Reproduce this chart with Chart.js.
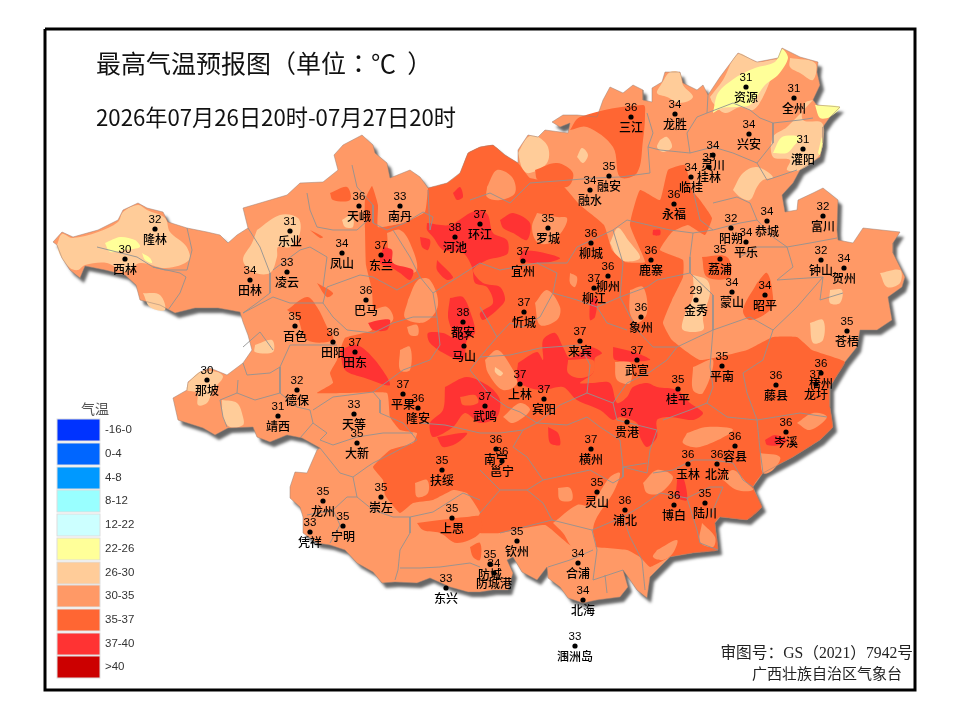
<!DOCTYPE html>
<html>
<head>
<meta charset="utf-8">
<title>最高气温预报图</title>
<script src="https://cdn.jsdelivr.net/npm/chart.js@4"></script>
<style>
  html, body { margin: 0; padding: 0; background: #fff; }
  canvas { display: block; }
</style>
</head>
<body>
<canvas id="chartCanvas" width="960" height="719"></canvas>
<script>
/* =========================
   Stations (map grid units = picture grid)
========================= */
const stationNames = ["隆林","西林","乐业","天峨","南丹","凤山","东兰","河池","环江","田林","凌云","巴马","百色","田阳","田东","都安","马山","三江","龙胜","资源","全州","兴安","灌阳","灵川","桂林","临桂","融安","融水","永福","阳朔","恭城","富川","平乐","罗城","柳城","鹿寨","荔浦","钟山","贺州","宜州","柳州","柳江","蒙山","昭平","金秀","忻城","象州","苍梧","来宾","武宣","平南","桂平","上林","宾阳","武鸣","藤县","梧州","龙圩","岑溪","贵港","南宁","邕宁","横州","容县","玉林","北流","灵山","浦北","博白","陆川","钦州","合浦","防城","防城港","北海","涠洲岛","那坡","德保","靖西","天等","大新","平果","隆安","扶绥","崇左","龙州","宁明","凭祥","上思","东兴"];
const stationTemps = [32,30,31,36,33,34,37,38,37,34,33,36,35,36,37,38,37,36,34,31,31,34,31,34,35,34,35,34,36,32,34,32,34,35,36,36,35,32,34,37,36,37,34,34,29,37,36,35,37,37,35,35,37,37,37,36,36,37,36,37,36,36,37,36,36,36,35,36,36,35,35,34,35,34,34,33,30,32,31,33,35,37,36,35,35,35,35,33,35,33];
const stationX = [155,125,290,359,400,342,381,455,480,250,287,366,295,333,355,463,464,631,675,746,794,749,803,713,709,691,609,590,674,731,767,823,746,548,591,651,720,821,844,523,608,594,732,765,696,524,641,847,580,637,722,678,520,544,485,776,821,816,786,627,496,502,591,735,688,717,597,625,674,705,517,578,490,494,583,575,207,297,278,354,357,403,418,442,381,323,343,310,452,446];
const stationY = [229,259,231,206,206,253,255,237,224,280,272,300,326,342,352,322,346,117,114,87,98,134,149,155,167,177,176,190,204,228,221,216,242,228,243,260,259,260,268,261,276,288,292,295,300,312,317,331,341,360,366,389,384,399,406,385,373,384,432,422,449,461,449,446,464,464,492,510,505,503,541,563,564,573,600,646,380,390,416,414,443,394,408,470,497,501,526,532,518,588];

/* =========================
   Legend
========================= */
const legendLabels = ["-16-0","0-4","4-8","8-12","12-22","22-26","26-30","30-35","35-37","37-40",">40"];
const legendColors = ["#0033FF","#0066FF","#0099FF","#99FFFF","#CCFFFF","#FFFF99","#FFCC99","#FF9966","#FF6633","#FF3333","#CC0000"];
const legendTop = [419,443,467,490,514,538,562,585,609,633,656];

const bandYellow = "#FFFF99", bandLight = "#FFCC99", bandBase = "#FF9966", bandHot = "#FF6633", bandRed = "#FF3333";

/* =========================
   Map shapes
========================= */
const frameBox = [[45,29],[915,29],[915,690],[45,690],[45,29]];

const provinceOutline = [[53,242],[62,232],[73,237],[98,230],[118,220],[123,210],[138,203],[147,208],[163,212],[168,222],[187,228],[207,232],[220,235],[228,243],[237,235],[248,228],[243,208],[260,203],[287,195],[300,183],[323,182],[338,170],[334,155],[343,145],[362,135],[373,145],[375,153],[387,163],[390,178],[410,170],[420,177],[428,188],[447,183],[460,173],[468,153],[480,147],[493,145],[505,155],[518,163],[518,150],[528,135],[538,137],[545,130],[568,133],[570,123],[560,127],[552,122],[563,115],[577,115],[597,117],[603,100],[610,87],[623,93],[633,85],[643,90],[643,100],[652,102],[652,88],[662,82],[665,72],[680,72],[683,83],[697,90],[703,85],[708,95],[720,77],[738,53],[757,62],[778,58],[782,48],[800,57],[818,62],[817,72],[820,85],[813,100],[817,105],[840,107],[830,117],[823,127],[823,143],[820,157],[800,170],[793,183],[782,195],[785,212],[797,210],[798,200],[813,193],[823,188],[838,200],[837,230],[838,240],[853,243],[863,228],[900,232],[893,243],[893,253],[905,277],[902,287],[888,297],[892,320],[877,330],[860,330],[857,347],[845,362],[830,387],[830,407],[833,427],[820,440],[793,457],[763,473],[753,487],[762,507],[747,520],[720,517],[715,523],[718,550],[693,553],[670,557],[650,577],[647,598],[637,590],[628,577],[623,570],[628,587],[620,597],[597,600],[583,603],[568,598],[560,587],[548,578],[547,567],[537,580],[522,572],[513,557],[507,560],[513,573],[508,590],[493,590],[480,592],[468,592],[450,587],[430,578],[417,583],[395,582],[382,583],[373,572],[357,563],[345,550],[330,545],[317,543],[303,533],[303,517],[300,507],[290,498],[290,487],[295,472],[307,473],[317,450],[320,448],[302,438],[287,435],[270,442],[257,437],[253,427],[228,428],[215,435],[203,428],[178,420],[173,398],[187,390],[188,382],[200,372],[210,368],[227,375],[243,363],[252,350],[248,335],[243,322],[240,312],[218,308],[195,308],[175,313],[160,305],[140,300],[136,285],[125,275],[105,270],[85,266],[80,278],[70,270],[62,258],[57,245]];

const hotMain = [[428,188],[447,183],[460,173],[468,153],[480,147],[493,145],[505,155],[518,163],[530,178],[560,183],[580,205],[604,225],[612,250],[625,262],[645,262],[630,225],[640,190],[660,200],[668,170],[685,165],[692,190],[700,200],[712,218],[705,235],[688,225],[672,232],[660,250],[683,260],[683,277],[672,300],[663,323],[672,340],[700,360],[747,350],[773,337],[797,337],[812,350],[845,362],[830,387],[830,407],[833,427],[820,440],[793,457],[763,473],[753,487],[762,507],[747,520],[720,517],[715,523],[718,550],[693,553],[670,557],[650,567],[640,557],[627,550],[593,547],[570,545],[545,525],[500,533],[480,533],[472,525],[480,513],[467,493],[453,490],[433,500],[413,503],[400,513],[385,495],[383,480],[373,467],[390,450],[413,443],[417,433],[400,430],[390,417],[387,393],[345,393],[317,393],[333,383],[330,373],[337,360],[345,338],[372,330],[372,290],[366,265],[365,228],[365,200],[372,186],[378,205],[378,227],[403,223],[425,212]];

const hotPatches = [
  [[417,523],[440,520],[467,517],[480,517],[480,533],[457,543],[440,533],[423,530]],
  [[470,547],[480,543],[480,560],[473,557]],
  [[287,310],[307,297],[317,307],[327,327],[333,340],[307,340],[297,317]],
  [[317,283],[333,293],[327,297]],
  [[330,193],[347,187],[350,200],[333,200]],
  [[310,230],[323,237],[320,238]],
  [[570,130],[580,117],[643,105],[645,115],[643,140],[637,173],[620,177],[613,147],[587,127]],
  [[535,170],[557,163],[573,173],[567,187],[538,180]],
  [[702,257],[727,257],[730,277],[707,277]],
  [[757,283],[767,273],[773,297],[770,310],[750,320],[743,310]]
];

const baseHoles = [
  [[487,187],[497,170],[512,177],[515,193],[500,200],[487,197]],
  [[535,303],[547,290],[560,307],[557,320],[540,325]],
  [[373,310],[387,307],[393,320],[373,330]],
  [[387,233],[400,230],[410,243],[417,270],[403,273],[390,257]],
  [[408,300],[418,280],[430,280],[438,305],[425,322],[405,318]],
  [[407,327],[417,325],[418,335],[410,335]],
  [[400,350],[410,347],[410,370],[400,370]],
  [[537,213],[557,217],[567,218],[563,230],[550,243],[537,242],[532,227]],
  [[570,273],[577,277],[575,287],[570,283]],
  [[558,488],[570,488],[572,500],[560,500]],
  [[553,523],[577,505],[590,505],[610,477],[620,473],[613,493],[597,517],[593,530],[595,548],[573,547],[563,533]],
  [[643,483],[657,470],[673,477],[660,493],[647,493]],
  [[657,550],[677,540],[673,553],[663,560],[653,557]],
  [[702,523],[715,537],[713,547],[700,542]],
  [[723,480],[733,470],[747,483],[753,490],[737,490]],
  [[687,433],[707,427],[733,430],[700,447],[683,443]],
  [[760,453],[780,457],[773,470],[763,473]],
  [[797,423],[813,413],[827,417],[810,430]],
  [[693,367],[713,360],[703,393],[693,390]],
  [[485,360],[497,350],[507,360],[517,383],[503,390],[488,373]],
  [[503,417],[520,403],[530,410],[513,423]],
  [[615,362],[630,362],[630,383],[617,380]],
  [[630,290],[643,287],[647,313],[637,323],[630,313]],
  [[415,483],[427,480],[428,493],[417,497]]
];

const lightCore = [[495,367],[503,373],[500,376],[495,372]];

const lightPatches = [
  [[57,245],[62,234],[72,238],[98,232],[118,222],[123,212],[138,205],[147,210],[165,218],[170,232],[186,246],[189,260],[166,268],[140,263],[125,272],[107,263],[85,265],[78,270],[70,268],[60,255]],
  [[257,230],[280,215],[298,218],[300,233],[290,247],[278,247],[277,257],[270,273],[253,272],[243,260],[252,243]],
  [[342,220],[352,215],[353,227],[345,227]],
  [[143,293],[160,295],[165,310],[150,307]],
  [[255,345],[272,340],[273,352],[255,352]],
  [[188,383],[200,372],[217,372],[223,377],[213,390],[207,403],[198,405],[197,393],[187,390]],
  [[222,400],[237,403],[243,417],[243,425],[230,427],[223,417]],
  [[662,83],[670,72],[680,73],[683,85],[693,97],[680,103],[667,97],[657,93]],
  [[710,97],[723,80],[738,54],[757,62],[778,60],[773,73],[763,97],[753,110],[740,107],[725,113],[713,103]],
  [[790,58],[815,63],[813,80],[800,73],[790,67]],
  [[813,100],[805,103],[803,120],[822,123],[823,143],[818,157],[800,170],[787,170],[790,160],[773,157],[773,137],[787,127]],
  [[733,190],[743,173],[757,167],[773,177],[763,180],[757,187],[750,200],[740,197]],
  [[518,153],[528,137],[538,137],[548,147],[547,163],[530,173],[523,170]],
  [[577,157],[582,148],[588,155],[583,163]],
  [[660,140],[667,137],[672,147],[663,152],[657,147]],
  [[693,275],[707,280],[710,293],[703,317],[703,330],[683,330],[684,317],[693,297]],
  [[810,323],[823,320],[823,340],[813,343]],
  [[880,273],[900,270],[900,283],[887,287]],
  [[830,290],[842,290],[840,303],[830,303]],
  [[610,243],[618,228],[628,240],[640,258],[620,260]]
];

const yellowPatches = [
  [[105,243],[120,237],[135,240],[140,247],[125,250],[110,252]],
  [[142,253],[150,258],[152,263],[145,260]],
  [[713,113],[718,93],[735,78],[755,68],[775,62],[782,49],[788,58],[778,75],[765,85],[750,105],[735,107],[722,108]],
  [[815,105],[840,107],[830,117],[820,118]],
  [[773,153],[782,137],[800,137],[793,147],[787,153]],
  [[818,153],[822,137],[823,143],[820,155]]
];

const redPatches = [
  [[427,223],[450,225],[470,213],[480,210],[488,215],[493,233],[507,240],[508,253],[500,257],[487,260],[473,270],[483,283],[500,287],[505,300],[497,310],[483,320],[480,313],[493,303],[487,287],[475,283],[472,267],[463,253],[443,250],[433,237],[427,230]],
  [[420,237],[430,240],[428,250],[422,247]],
  [[437,260],[453,277],[447,280],[437,270]],
  [[500,220],[513,213],[530,223],[527,240],[513,233],[503,228]],
  [[523,250],[540,252],[560,258],[550,262],[533,263],[520,260]],
  [[383,247],[392,250],[393,263],[413,270],[410,280],[400,273],[390,267],[380,263]],
  [[450,298],[463,297],[472,317],[475,333],[467,340],[463,360],[447,355],[430,343],[428,333],[443,333],[453,337],[448,317]],
  [[340,350],[357,345],[375,360],[390,385],[365,378],[345,370]],
  [[368,323],[380,320],[390,320],[387,330],[373,330]],
  [[518,363],[537,352],[543,360],[543,340],[555,333],[563,347],[570,358],[590,347],[602,353],[595,358],[593,373],[580,383],[593,383],[610,383],[617,403],[627,397],[633,387],[647,383],[657,387],[677,390],[690,403],[703,413],[693,420],[670,417],[657,420],[657,437],[647,447],[640,437],[637,423],[620,417],[613,420],[600,410],[577,400],[563,387],[543,390],[527,387],[517,380]],
  [[613,347],[637,353],[650,360],[615,360]],
  [[445,387],[467,377],[490,387],[500,400],[497,417],[480,423],[465,413],[453,427],[433,437],[430,423],[443,410]],
  [[437,437],[467,433],[457,443],[443,447]],
  [[548,427],[558,433],[560,445],[550,443]],
  [[765,440],[775,435],[787,440],[780,445],[767,445]],
  [[677,480],[683,477],[687,500],[677,497]],
  [[590,300],[597,297],[595,317],[590,320]],
  [[653,230],[660,230],[660,235],[653,235]],
  [[453,193],[460,187],[463,197],[457,200]]
];

const redHoles = [
  [[568,360],[593,360],[593,373],[580,378],[568,373]],
  [[460,397],[475,395],[478,403],[463,405]]
];

const countyLines = [
  [[187,228],[192,250],[187,270],[165,270],[153,267],[137,257],[117,252],[97,247]],
  [[153,267],[180,273],[186,277],[180,293],[168,310]],
  [[248,228],[260,247],[270,273],[270,293],[257,303],[243,313]],
  [[273,270],[300,250],[310,247],[327,257],[323,287]],
  [[307,193],[310,210],[317,227],[333,230],[357,230],[368,220]],
  [[352,165],[357,187],[373,205],[373,223],[387,230],[405,223],[423,212],[433,217],[430,230],[428,190]],
  [[327,287],[360,275],[373,277],[397,290],[420,277],[410,257],[393,230]],
  [[327,287],[323,303],[333,317],[347,330],[373,333],[393,323],[413,317],[437,317],[433,293],[420,277]],
  [[243,313],[273,297],[290,303],[307,303],[323,303]],
  [[243,347],[260,332],[273,350]],
  [[243,363],[247,375],[270,373],[280,367],[290,345],[337,345]],
  [[238,380],[237,393],[220,400],[223,417],[227,427]],
  [[280,393],[297,407],[310,410],[313,423],[300,438]],
  [[280,367],[280,393],[255,400],[237,393]],
  [[313,410],[333,397],[373,392],[380,400],[380,413],[403,423],[417,440]],
  [[313,423],[327,433],[320,440],[333,445],[357,437],[383,433],[413,433]],
  [[320,448],[340,473],[353,477],[367,467],[373,463],[393,453],[417,440]],
  [[353,477],[357,497],[347,497],[333,510],[307,515]],
  [[333,510],[340,525],[330,543]],
  [[357,497],[373,510],[393,517],[410,517],[410,533],[400,550],[398,570],[395,580]],
  [[400,568],[420,568],[440,567],[470,563],[480,567]],
  [[410,517],[433,512],[463,493],[480,500]],
  [[480,513],[500,490],[527,490],[543,503],[552,520],[592,530],[597,550],[593,580]],
  [[593,550],[570,560],[548,567]],
  [[500,533],[552,520]],
  [[605,575],[607,593]],
  [[593,580],[623,570]],
  [[642,560],[630,537],[623,517],[592,530]],
  [[642,560],[645,590]],
  [[623,517],[640,507],[660,493],[687,498],[697,530],[700,543],[718,550]],
  [[687,498],[710,487],[723,487],[710,517]],
  [[653,473],[673,470],[693,460],[713,460],[733,463],[743,480],[753,487]],
  [[763,473],[760,450],[757,420],[800,413],[827,417]],
  [[757,420],[747,393],[743,373],[763,360],[773,330]],
  [[663,420],[690,410],[707,403],[727,417],[757,420]],
  [[707,403],[713,387],[710,367],[713,330]],
  [[587,393],[613,403],[617,420],[657,430],[650,450],[647,473],[623,467],[647,463]],
  [[537,423],[567,425],[587,417],[600,427],[620,440],[623,467],[623,477],[613,483],[590,470],[543,480],[527,490]],
  [[480,470],[500,490]],
  [[543,480],[527,457],[513,447],[523,430],[537,423]],
  [[480,433],[500,433],[523,430]],
  [[507,407],[520,412],[537,423],[560,405],[587,393]],
  [[647,113],[653,133],[648,147],[650,173],[620,177],[595,178],[570,180],[530,183],[510,203],[490,193],[470,200]],
  [[708,95],[707,113],[697,117],[687,133],[690,153],[660,150],[648,147]],
  [[707,113],[733,103],[750,110],[760,118],[773,123],[773,143],[757,163],[733,153],[713,147],[690,153]],
  [[773,123],[800,120],[813,118]],
  [[757,163],[767,180],[797,170]],
  [[713,203],[737,197],[750,203],[757,220],[773,237],[787,247],[810,243],[837,238]],
  [[693,190],[700,220],[713,230],[693,233],[690,257],[690,273],[657,280]],
  [[713,230],[740,223],[757,220]],
  [[740,257],[757,247],[787,247]],
  [[787,247],[793,267],[777,280],[823,277],[820,300],[843,293]],
  [[690,273],[713,295],[713,330],[750,317],[773,330],[797,307],[823,277]],
  [[480,263],[500,270],[537,263],[567,263],[577,247],[613,230],[627,220],[670,230],[693,233]],
  [[537,263],[557,273],[553,293],[577,300],[597,307],[620,297],[623,263],[613,230]],
  [[620,297],[647,287],[657,280]],
  [[620,297],[637,330],[653,347],[677,347],[713,330]],
  [[480,307],[497,337],[510,323],[523,327],[540,317],[553,293]],
  [[497,337],[480,357],[470,370],[490,395],[507,407]],
  [[597,307],[607,323],[627,330]],
  [[433,293],[480,263]],
  [[437,317],[440,345],[430,360],[403,370],[373,392]],
  [[677,347],[667,360],[650,372],[627,383],[613,403]],
  [[587,393],[590,365],[580,345],[540,348],[510,355],[480,357]],
  [[420,423],[445,425],[480,433]]
];

/* =========================
   Helpers
========================= */
function polyDataset(points, color, tension) {
  const closed = points.concat([points[0]]).map(p => ({ x: p[0], y: p[1] }));
  return {
    data: closed,
    showLine: true,
    fill: "shape",
    backgroundColor: color,
    borderColor: color,
    borderWidth: 0,
    pointRadius: 0,
    tension: tension
  };
}

function lineDataset(points, color, width) {
  return {
    data: points.map(p => ({ x: p[0], y: p[1] })),
    showLine: true,
    fill: false,
    borderColor: color,
    borderWidth: width,
    pointRadius: 0,
    tension: 0
  };
}

// painter order, bottom first
const painted = [];
painted.push(polyDataset(provinceOutline, bandBase, 0));
lightPatches.forEach(p => painted.push(polyDataset(p, bandLight, 0.35)));
yellowPatches.forEach(p => painted.push(polyDataset(p, bandYellow, 0.3)));
painted.push(polyDataset(hotMain, bandHot, 0.12));
hotPatches.forEach(p => painted.push(polyDataset(p, bandHot, 0.35)));
baseHoles.forEach(p => painted.push(polyDataset(p, bandBase, 0.35)));
painted.push(polyDataset(lightCore, bandLight, 0.35));
redPatches.forEach(p => painted.push(polyDataset(p, bandRed, 0.3)));
redHoles.forEach(p => painted.push(polyDataset(p, bandHot, 0.35)));
countyLines.forEach(p => painted.push(lineDataset(p, "#929292", 0.9)));
painted.push(lineDataset(provinceOutline.concat([provinceOutline[0]]), "#9a8074", 0.5));
painted.push(lineDataset(frameBox, "#000000", 3));
painted.push({
  data: stationX.map((x, i) => ({ x: x, y: stationY[i] })),
  showLine: false,
  pointRadius: 2.6,
  pointBackgroundColor: "#000000",
  pointBorderWidth: 0
});

/* =========================
   Shadow + text plugin
========================= */
const mapPlugin = {
  id: "mapText",
  beforeDatasetsDraw(chart) {
    // drop shadow only for the province fill, the first thing painted
    const ctx = chart.ctx;
    ctx.save();
    ctx.shadowColor = "rgba(0,0,0,0.6)";
    ctx.shadowBlur = 3;
    ctx.shadowOffsetX = 4;
    ctx.shadowOffsetY = 5;
  },
  afterDatasetDraw(chart, args) {
    if (args.index === painted.length - 1) chart.ctx.restore();
  },
  afterDatasetsDraw(chart) {
    const ctx = chart.ctx;
    const sx = chart.scales.x, sy = chart.scales.y;
    ctx.save();
    ctx.textAlign = "center";
    ctx.textBaseline = "middle";
    ctx.fillStyle = "#000";
    stationNames.forEach((name, i) => {
      const px = sx.getPixelForValue(stationX[i]);
      const py = sy.getPixelForValue(stationY[i]);
      ctx.font = '11.5px "Liberation Sans"';
      ctx.fillText(String(stationTemps[i]), px, py - 9.5);
      ctx.font = '500 12px "Noto Sans CJK SC"';
      ctx.fillText(name, px, py + 10);
    });

    // headings
    ctx.textAlign = "left";
    ctx.fillStyle = "#111";
    ctx.font = '25px "Noto Sans CJK TC"';
    ctx.fillText("最高气温预报图（单位：℃  ）", 96, 63);
    ctx.font = '22.2px "Noto Sans CJK SC"';
    ctx.fillText("2026年07月26日20时-07月27日20时", 96, 118);

    // legend
    ctx.textAlign = "center";
    ctx.fillStyle = "#555";
    ctx.font = '14px "Noto Sans CJK SC"';
    ctx.fillText("气温", 95, 409);
    ctx.textAlign = "left";
    ctx.font = '11.5px "Liberation Sans"';
    legendLabels.forEach((label, i) => {
      ctx.fillStyle = legendColors[i];
      ctx.fillRect(57, legendTop[i], 43, 22);
      ctx.strokeStyle = "#dddddd";
      ctx.lineWidth = 1;
      ctx.strokeRect(57, legendTop[i], 43, 22);
      ctx.fillStyle = "#333";
      ctx.fillText(label, 105, legendTop[i] + 11);
    });

    // footer
    ctx.fillStyle = "#222";
    ctx.textAlign = "right";
    ctx.font = '15.7px "Liberation Serif", "Noto Sans CJK SC"';
    ctx.fillText("审图号：GS（2021）7942号", 913, 654);
    ctx.font = '15px "Noto Sans CJK SC"';
    ctx.fillText("广西壮族自治区气象台", 902, 673);
    ctx.restore();
  }
};

/* =========================
   Render Chart
========================= */
const ctx = document.getElementById("chartCanvas").getContext("2d");
new Chart(ctx, {
  type: "scatter",
  data: { datasets: painted.slice().reverse() },
  options: {
    responsive: false,
    animation: false,
    devicePixelRatio: 1,
    layout: { padding: 0, autoPadding: false },
    plugins: { legend: { display: false }, tooltip: { enabled: false } },
    scales: {
      x: { type: "linear", min: 0, max: 960, display: false },
      y: { type: "linear", min: 0, max: 719, reverse: true, display: false }
    }
  },
  plugins: [mapPlugin]
});
</script>
</body>
</html>
